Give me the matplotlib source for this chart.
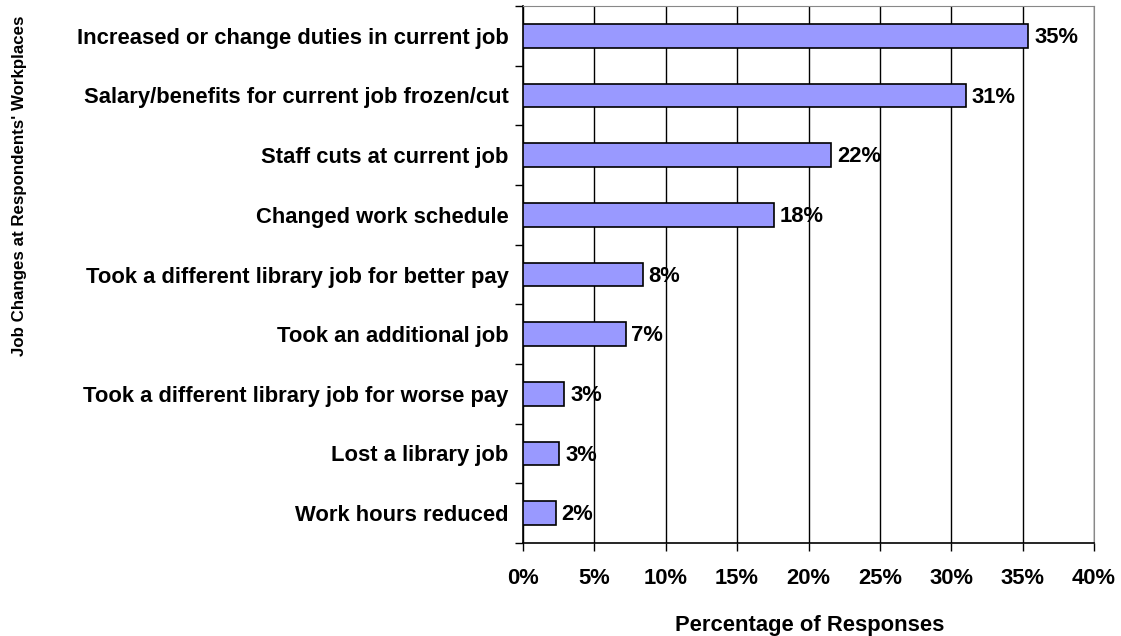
import numpy as np
import matplotlib.pyplot as plt

plt.rcParams['font.family'] = ['Liberation Sans', 'DejaVu Sans']
plt.rcParams['font.weight'] = 'bold'

categories = [
    "Increased or change duties in current job",
    "Salary/benefits for current job frozen/cut",
    "Staff cuts at current job",
    "Changed work schedule",
    "Took a different library job for better pay",
    "Took an additional job",
    "Took a different library job for worse pay",
    "Lost a library job",
    "Work hours reduced",
]
values = [35.4, 31.0, 21.6, 17.6, 8.4, 7.2, 2.9, 2.55, 2.3]
xticks = [0, 5, 10, 15, 20, 25, 30, 35, 40]

fs = 15.8

fig = plt.figure(figsize=(11.21, 6.36), dpi=100)
ax = fig.add_axes([523 / 1121, 1 - 543 / 636, 571 / 1121, 537 / 636])

y = np.arange(len(categories))
ax.barh(y, values, height=0.4, color="#9999FF", edgecolor="black", linewidth=1.2, zorder=3)

# value labels at the bar ends
for yi, v in zip(y, values):
    ax.text(v + 0.4, yi + 0.03, f"{v:.0f}%", va="center", ha="left", fontsize=fs, fontweight="bold", zorder=4)

ax.set_xlim(0, 40)
ax.set_ylim(len(categories) - 0.5, -0.5)
ax.set_xticks(xticks)
ax.set_xticklabels([f"{t}%" for t in xticks], fontsize=fs, fontweight="bold")
ax.set_yticks(y)
ax.set_yticklabels(categories, fontsize=fs, fontweight="bold")
ax.tick_params(axis="y", which="major", length=0, pad=10.5)
ax.set_yticks(np.arange(-0.5, len(categories) + 0.5, 1), minor=True)
ax.tick_params(axis="y", which="minor", length=6, width=1, direction="out")
ax.tick_params(axis="x", which="major", length=6, width=1, direction="out", pad=12)

ax.grid(axis="x", color="black", linewidth=1, zorder=0)
ax.set_axisbelow(True)
for side in ["top", "right"]:
    ax.spines[side].set_color("#888888")
for side in ["left", "bottom"]:
    ax.spines[side].set_color("black")
    ax.spines[side].set_linewidth(1.2)

fig.text(810 / 1121, 1 - 625 / 636, "Percentage of Responses", va="center", ha="center",
         fontsize=fs, fontweight="bold")
fig.text(20 / 1121, 1 - 186 / 636, "Job Changes at Respondents' Workplaces", rotation=90,
         va="center", ha="center", fontsize=12.2, fontweight="bold")

fig.savefig("out.png", dpi=100)
